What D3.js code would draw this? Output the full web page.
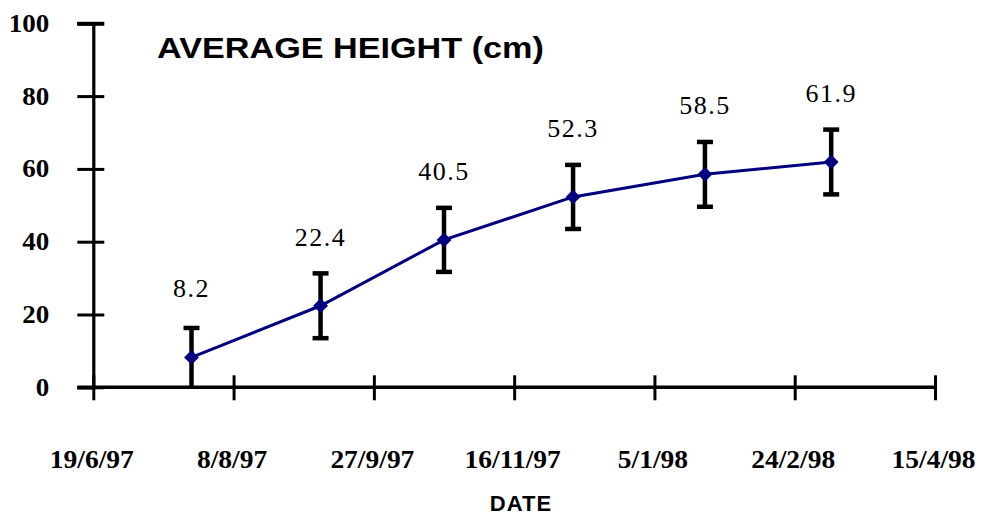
<!DOCTYPE html>
<html>
<head>
<meta charset="utf-8">
<script src="https://cdn.jsdelivr.net/npm/d3@7/dist/d3.min.js"></script>
<style>
  body { margin: 0; background: #fff; }
  svg { display: block; }
</style>
</head>
<body>
<svg id="chart" width="982" height="517"></svg>
<script>
// Sampling dates and mean plant height (cm) with its spread
const dates = ["24/7/97", "8/9/97", "22/10/97", "7/12/97", "23/1/98", "9/3/98"];
const heights = [8.2, 22.4, 40.5, 52.3, 58.5, 61.9];
const errors = [8.1, 8.9, 8.8, 8.8, 8.9, 8.9];

// Axis ticks
const xTickDates = ["19/6/97", "8/8/97", "27/9/97", "16/11/97", "5/1/98", "24/2/98", "15/4/98"];
const yTicks = [0, 20, 40, 60, 80, 100];

const parse = d3.utcParse("%d/%m/%y");
const fmt = d3.utcFormat("%-d/%-m/%y");

const points = dates.map((d, i) => ({ date: parse(d), h: heights[i], e: errors[i] }));
const tickDates = xTickDates.map(parse);

const svg = d3.select("#chart");

const x = d3.scaleUtc()
  .domain([tickDates[0], tickDates[tickDates.length - 1]])
  .range([93.3, 935]);
const y = d3.scaleLinear().domain([0, 100]).range([387.3, 23.3]);

const serif = "'Liberation Serif', 'Times New Roman', serif";
const sans = "'Liberation Sans', Arial, sans-serif";

// Y axis
const yAxis = svg.append("g")
  .attr("transform", `translate(${x.range()[0]},0)`)
  .call(d3.axisLeft(y).tickValues(yTicks).tickSizeOuter(0).tickSize(16).tickPadding(0));
yAxis.select(".domain").attr("stroke", "#000").attr("stroke-width", 3.2);
yAxis.selectAll(".tick line")
  .attr("x1", 11).attr("x2", -16)
  .attr("stroke", "#000").attr("stroke-width", 3);
yAxis.selectAll(".tick line").filter(d => d === 100).attr("stroke-width", 4);
yAxis.selectAll(".tick text")
  .attr("x", 0).attr("dy", null).attr("y", 8)
  .attr("text-anchor", "end")
  .attr("transform", "translate(-44,0) scale(1.08,1)")
  .style("font-family", serif).style("font-weight", "bold").style("font-size", "25px")
  .attr("fill", "#000");

// X axis
const xAxis = svg.append("g")
  .attr("transform", `translate(0,${y(0)})`)
  .call(d3.axisBottom(x).tickValues(tickDates).tickFormat(fmt).tickSizeOuter(0).tickSize(13).tickPadding(0));
xAxis.select(".domain").remove();
xAxis.insert("line", ":first-child")
  .attr("x1", x.range()[0] - 16).attr("x2", x.range()[1])
  .attr("stroke", "#000").attr("stroke-width", 3.5);
xAxis.selectAll(".tick line")
  .attr("y1", -12).attr("y2", 13)
  .attr("stroke", "#000").attr("stroke-width", 3);
xAxis.selectAll(".tick text")
  .attr("y", 0).attr("dy", null)
  .attr("transform", "translate(-2,81) scale(1.1,1)")
  .style("font-family", serif).style("font-weight", "bold").style("font-size", "25px")
  .attr("fill", "#000");

// Error bars
const eb = svg.append("g").selectAll("g").data(points).join("g");
eb.append("line")
  .attr("x1", d => x(d.date)).attr("x2", d => x(d.date))
  .attr("y1", d => y(Math.max(0, d.h - d.e))).attr("y2", d => y(d.h + d.e))
  .attr("stroke", "#000").attr("stroke-width", 4.5);
eb.append("line")
  .attr("x1", d => x(d.date) - 8).attr("x2", d => x(d.date) + 8)
  .attr("y1", d => y(d.h + d.e)).attr("y2", d => y(d.h + d.e))
  .attr("stroke", "#000").attr("stroke-width", 4.5);
eb.filter(d => d.h - d.e > 0.5).append("line")
  .attr("x1", d => x(d.date) - 8).attr("x2", d => x(d.date) + 8)
  .attr("y1", d => y(d.h - d.e)).attr("y2", d => y(d.h - d.e))
  .attr("stroke", "#000").attr("stroke-width", 4.5);

// Mean line with diamond markers
const navy = "#00007f";
svg.append("path")
  .datum(points)
  .attr("fill", "none")
  .attr("stroke", navy)
  .attr("stroke-width", 3)
  .attr("d", d3.line().x(d => x(d.date)).y(d => y(d.h)));

svg.append("g").selectAll("path").data(points).join("path")
  .attr("d", d3.symbol(d3.symbolSquare, 110)())
  .attr("transform", d => `translate(${x(d.date)},${y(d.h)}) rotate(45)`)
  .attr("fill", navy);

// Value labels
svg.append("g").selectAll("text").data(points).join("text")
  .attr("x", d => x(d.date))
  .attr("y", d => y(d.h) - 60)
  .attr("text-anchor", "middle")
  .style("font-family", serif).style("font-size", "26px").style("letter-spacing", "1.5px")
  .attr("fill", "#000")
  .text(d => d.h.toFixed(1));

// Title and axis title
svg.append("text")
  .attr("transform", "translate(157,58) scale(1.14,1)")
  .style("font-family", sans).style("font-weight", "bold").style("font-size", "30px")
  .attr("fill", "#000")
  .text("AVERAGE HEIGHT (cm)");

svg.append("text")
  .attr("x", 521).attr("y", 511)
  .attr("text-anchor", "middle")
  .style("font-family", sans).style("font-weight", "bold").style("font-size", "22px")
  .style("letter-spacing", "1px")
  .attr("fill", "#000")
  .text("DATE");
</script>
</body>
</html>
